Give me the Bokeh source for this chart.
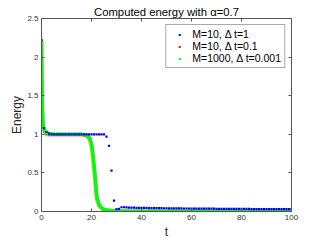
from bokeh.plotting import figure
from bokeh.models import Range1d, LinearAxis, FixedTicker, Legend, LegendItem
from bokeh.embed import file_html
from bokeh.resources import INLINE

# M=10, dt=1 (one point per unit time)
t_blue = list(range(0, 101))
e_blue = [2.22, 1.08, 1.03, 1.01,
          1.0, 1.0, 1.0, 1.0, 1.0, 1.0, 1.0, 1.0, 1.0, 1.0, 1.0,
          1.0, 1.0, 1.0, 1.0, 1.0, 1.0, 1.0, 1.0, 1.0, 1.0, 1.0,
          0.97, 0.85, 0.53, 0.14,
          0.03, 0.035, 0.055, 0.055, 0.053, 0.051,
          0.050, 0.049, 0.048, 0.048, 0.047,
          0.046, 0.046, 0.045, 0.045, 0.044,
          0.044, 0.043, 0.043, 0.042, 0.042,
          0.041, 0.041, 0.041, 0.040, 0.040,
          0.040, 0.039, 0.039, 0.039, 0.038,
          0.038, 0.038, 0.037, 0.037, 0.037, 0.036, 0.036, 0.036, 0.036, 0.035,
          0.035, 0.035, 0.035, 0.034, 0.034, 0.034, 0.034, 0.034, 0.033, 0.033,
          0.033, 0.033, 0.033, 0.032, 0.032, 0.032, 0.032, 0.032, 0.032, 0.031,
          0.031, 0.031, 0.031, 0.031, 0.031, 0.030, 0.030, 0.030, 0.030, 0.030]

# M=10, dt=0.1
t_red = [0, 0.1, 0.2, 0.3, 0.5, 0.8, 1.2, 2, 3, 5, 8, 12, 16, 17.3, 18.3, 19.3,
         20.1, 20.9, 21.3, 21.7, 22.1, 22.9, 23.8, 24.6, 26, 28.7, 32, 40, 60, 80, 100]
e_red = [2.2, 1.88, 1.58, 1.38, 1.18, 1.08, 1.03, 1.0, 0.995, 0.993, 0.993, 0.993, 0.993,
         0.985, 0.97, 0.93, 0.82, 0.57, 0.44, 0.27, 0.16, 0.08, 0.045, 0.025, 0.012,
         0.006, 0.003, 0.002, 0.001, 0.001, 0.001]

# M=1000, dt=0.001
t_green = [0, 0.1, 0.2, 0.3, 0.5, 0.8, 1.2, 2, 3, 5, 8, 12, 16, 17.5, 18.5, 19.5,
           20.3, 21.1, 21.5, 21.9, 22.3, 23.1, 24, 24.8, 26, 28.7, 32, 40, 60, 80, 100]
e_green = [2.22, 1.9, 1.6, 1.4, 1.2, 1.1, 1.05, 1.02, 1.01, 1.0, 1.0, 1.0, 1.0, 0.995,
           0.98, 0.94, 0.83, 0.58, 0.45, 0.28, 0.17, 0.085, 0.05, 0.03, 0.02, 0.01,
           0.005, 0.003, 0.002, 0.001, 0.001]

x_ticks = [0, 20, 40, 60, 80, 100]
y_ticks = [0, 0.5, 1, 1.5, 2, 2.5]
y_tick_labels = ["0", "0.5", "1", "1.5", "2", "2.5"]

labels = ["M=10, \u0394 t=1", "M=10, \u0394 t=0.1", "M=1000, \u0394 t=0.001"]
title_text = "Computed energy with \u03b1=0.7"
x_label = "t"
y_label = "Energy"

FONT = "Liberation Sans"
AX = "#555555"
TXT = "#333333"

W, H = 321, 241
p = figure(width=W, height=H, output_backend="svg", toolbar_location=None,
           x_range=Range1d(0, 100), y_range=Range1d(0, 2.5),
           min_border=0, min_border_left=41, min_border_right=30,
           min_border_top=18, min_border_bottom=28,
           title=title_text, x_axis_label=x_label, y_axis_label=y_label)
p.xgrid.visible = False
p.ygrid.visible = False
p.outline_line_color = None
p.background_fill_color = "white"

p.title.align = "center"
p.title.text_font = FONT
p.title.text_font_size = "11.3px"
p.title.text_font_style = "normal"
p.title.text_color = "black"
p.title.standoff = 2


def style_axis(ax, show_labels=True):
    ax.axis_line_color = AX
    ax.major_tick_line_color = AX
    ax.major_tick_in = 3
    ax.major_tick_out = 0
    ax.minor_tick_line_color = None
    ax.major_label_text_font = FONT
    ax.major_label_text_color = TXT
    ax.axis_label_text_font = FONT
    ax.axis_label_text_font_style = "normal"
    ax.axis_label_text_color = "#262626"
    ax.axis_label_text_font_size = "12px"
    if show_labels:
        ax.major_label_text_font_size = "8px"
        ax.major_label_standoff = 3
    else:
        ax.major_label_text_font_size = "1px"
        ax.major_label_text_color = None
        ax.major_label_standoff = 0


p.xaxis.ticker = FixedTicker(ticks=x_ticks)
p.yaxis.ticker = FixedTicker(ticks=y_ticks)
p.yaxis.major_label_overrides = dict(zip(y_ticks, y_tick_labels))
style_axis(p.xaxis[0])
style_axis(p.yaxis[0])
p.xaxis.axis_label_standoff = 2
p.yaxis.axis_label_standoff = 0

top = LinearAxis(ticker=FixedTicker(ticks=x_ticks))
right = LinearAxis(ticker=FixedTicker(ticks=y_ticks))
style_axis(top, False)
style_axis(right, False)
p.add_layout(top, "above")
p.add_layout(right, "right")

# red (under) and green curves; small dots carry the legend entries
r_red = p.scatter(t_red, e_red, marker="square", size=2, fill_color="#ff0000",
                  line_color=None)
p.line(t_red, e_red, line_color="#ff0000", line_alpha=0.35, line_width=4)
r_green = p.scatter(t_green, e_green, marker="square", size=2, fill_color="#00ff00",
                    line_color=None)
p.line(t_green, e_green, line_color="#00ff00", line_width=3.5)
r_blue = p.scatter(t_blue, e_blue, marker="square", size=2.2, fill_color="#0000ff",
                   line_color=None)

legend = Legend(items=[LegendItem(label=labels[0], renderers=[r_blue]),
                       LegendItem(label=labels[1], renderers=[r_red]),
                       LegendItem(label=labels[2], renderers=[r_green])],
                location="top_right")
legend.margin = 6
legend.padding = 3
legend.spacing = 0
legend.glyph_width = 20
legend.glyph_height = 5
legend.label_height = 12
legend.label_standoff = 3
legend.label_text_font = FONT
legend.label_text_font_size = "10.5px"
legend.label_text_color = "black"
legend.border_line_color = "#555555"
legend.border_line_width = 1
legend.background_fill_alpha = 1
p.add_layout(legend)

open("out.html", "w").write(file_html(p, INLINE))
